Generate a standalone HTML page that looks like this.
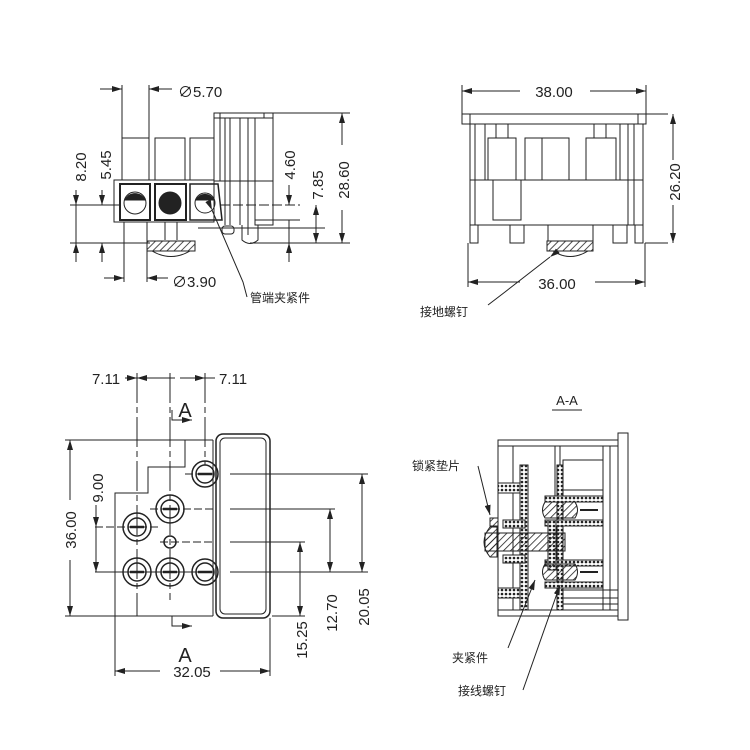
<!DOCTYPE html>
<html><head><meta charset="utf-8"><style>
html,body{margin:0;padding:0;background:#fff}
svg{display:block}
text{font-family:"Liberation Sans","Noto Sans CJK SC",sans-serif;fill:#222}
</style></head><body>
<svg width="750" height="750" viewBox="0 0 750 750" xmlns="http://www.w3.org/2000/svg">
<defs>
<marker id="ar" markerWidth="10" markerHeight="6" refX="10" refY="3" orient="auto" markerUnits="userSpaceOnUse"><path d="M0,0 L10,3 L0,6z" fill="#222"/></marker>
<pattern id="hatch" width="5" height="5" patternUnits="userSpaceOnUse" patternTransform="rotate(45)"><line x1="0" y1="0" x2="0" y2="5" stroke="#222" stroke-width="1.6"/></pattern>
<pattern id="dots" width="4" height="4" patternUnits="userSpaceOnUse"><rect width="4" height="4" fill="#fff"/><circle cx="2" cy="2" r="1.3" fill="#222"/></pattern>
</defs>
<g stroke="#222" fill="none" stroke-width="1">

<!-- ===== TOP LEFT VIEW ===== -->
<line x1="122" y1="85" x2="122" y2="138"/><line x1="149" y1="85" x2="149" y2="138"/>
<line x1="100" y1="89" x2="122" y2="89" marker-end="url(#ar)"/>
<line x1="172" y1="89" x2="149" y2="89" marker-end="url(#ar)"/>
<rect x="122" y="138" width="27" height="42"/><rect x="155" y="138" width="30" height="42"/><rect x="190" y="138" width="24" height="42"/>
<rect x="214" y="113" width="59" height="68"/>
<line x1="220" y1="113" x2="220" y2="181"/><line x1="225" y1="118" x2="225" y2="225"/><line x1="230" y1="118" x2="230" y2="225"/><line x1="240" y1="118" x2="240" y2="225"/><line x1="248" y1="118" x2="248" y2="235"/><line x1="255" y1="118" x2="255" y2="225"/>
<line x1="214" y1="118" x2="273" y2="118"/><line x1="264" y1="113" x2="264" y2="118"/>
<rect x="255" y="181" width="18" height="44"/>
<path d="M242,225 L242,240 Q250,247 258,240 L258,225"/>
<rect x="222" y="226" width="12" height="8" rx="3"/>
<rect x="114" y="180" width="100" height="42"/>
<rect x="120" y="184" width="30" height="36" stroke-width="2"/><rect x="155" y="184" width="31" height="36" stroke-width="2"/>
<path d="M190,184 L218,184 L222,220 L190,220z" stroke-width="1.5"/>
<circle cx="135" cy="203" r="11"/><path d="M125,200 A11,11 0 0 1 145,200z" fill="#222"/>
<circle cx="170" cy="203" r="11" fill="#222"/>
<circle cx="205" cy="203" r="10"/><path d="M196,200 A10,10 0 0 1 214,200z" fill="#222"/>
<line x1="124" y1="222" x2="124" y2="282"/><line x1="147" y1="222" x2="147" y2="282"/>
<line x1="165" y1="222" x2="165" y2="240"/><line x1="177" y1="222" x2="177" y2="240"/>
<rect x="147" y="241" width="48" height="10" fill="url(#hatch)"/>
<path d="M152,251 Q171,262 190,251" />
<line x1="70" y1="205" x2="120" y2="205"/><line x1="220" y1="205" x2="300" y2="205" stroke-dasharray="10,3"/>
<line x1="70" y1="243" x2="150" y2="243"/><line x1="198" y1="228" x2="325" y2="228"/><line x1="250" y1="243" x2="350" y2="243"/>
<line x1="273" y1="113" x2="350" y2="113"/><line x1="255" y1="220" x2="300" y2="220"/>
<line x1="76" y1="190" x2="76" y2="205" marker-end="url(#ar)"/><line x1="76" y1="262" x2="76" y2="243" marker-end="url(#ar)"/><line x1="76" y1="205" x2="76" y2="243"/>
<line x1="102" y1="190" x2="102" y2="205" marker-end="url(#ar)"/><line x1="102" y1="262" x2="102" y2="243" marker-end="url(#ar)"/>
<line x1="289" y1="185" x2="289" y2="205" marker-end="url(#ar)"/><line x1="289" y1="243" x2="289" y2="220"/>
<line x1="289" y1="262" x2="289" y2="243" marker-end="url(#ar)"/>
<line x1="316" y1="205" x2="316" y2="243" /><line x1="316" y1="224" x2="316" y2="205" marker-end="url(#ar)"/><line x1="316" y1="224" x2="316" y2="243" marker-end="url(#ar)"/>
<line x1="342" y1="145" x2="342" y2="113" marker-end="url(#ar)"/><line x1="342" y1="210" x2="342" y2="243" marker-end="url(#ar)"/>
<line x1="104" y1="278" x2="124" y2="278" marker-end="url(#ar)"/><line x1="168" y1="278" x2="147" y2="278" marker-end="url(#ar)"/>
<polyline points="212,210 243,282 247,297" marker-start="url(#ar)"/>

<!-- ===== TOP RIGHT VIEW ===== -->
<line x1="462" y1="85" x2="462" y2="114"/><line x1="646" y1="85" x2="646" y2="114"/>
<line x1="520" y1="91" x2="462" y2="91" marker-end="url(#ar)"/><line x1="590" y1="91" x2="646" y2="91" marker-end="url(#ar)"/>
<rect x="462" y="114" width="184" height="10"/><line x1="470" y1="114" x2="470" y2="124"/><line x1="638" y1="114" x2="638" y2="124"/>
<rect x="470" y="124" width="173" height="101"/>
<line x1="475" y1="124" x2="475" y2="225"/><line x1="485" y1="124" x2="485" y2="180"/><line x1="628" y1="124" x2="628" y2="225"/><line x1="620" y1="124" x2="620" y2="180"/><line x1="634" y1="124" x2="634" y2="225"/>
<line x1="470" y1="180" x2="643" y2="180"/>
<rect x="488" y="138" width="28" height="42"/><rect x="496" y="124" width="12" height="14"/>
<rect x="525" y="138" width="44" height="42"/><line x1="542" y1="138" x2="542" y2="180"/>
<rect x="586" y="138" width="30" height="42"/><rect x="594" y="124" width="12" height="14"/>
<rect x="493" y="180" width="28" height="40"/>
<rect x="470" y="225" width="8" height="18"/><rect x="510" y="225" width="14" height="18"/><rect x="613" y="225" width="14" height="18"/><rect x="635" y="225" width="8" height="18"/>
<rect x="548" y="225" width="45" height="16"/>
<rect x="547" y="241" width="46" height="10" fill="url(#hatch)"/>
<path d="M553,251 Q570,262 588,251"/>
<line x1="668" y1="114" x2="646" y2="114"/><line x1="668" y1="243" x2="645" y2="243"/>
<line x1="673" y1="160" x2="673" y2="114" marker-end="url(#ar)"/><line x1="673" y1="205" x2="673" y2="243" marker-end="url(#ar)"/>
<line x1="468" y1="243" x2="468" y2="287"/><line x1="645" y1="243" x2="645" y2="287"/>
<line x1="520" y1="282" x2="468" y2="282" marker-end="url(#ar)"/><line x1="595" y1="282" x2="645" y2="282" marker-end="url(#ar)"/>
<polyline points="550,257 505,292 488,305" marker-start="url(#ar)"/>

<!-- ===== BOTTOM LEFT VIEW ===== -->
<line x1="137" y1="373" x2="137" y2="616" stroke-dasharray="30,4,6,4"/>
<line x1="170" y1="373" x2="170" y2="600" stroke-dasharray="30,4,6,4"/>
<line x1="205" y1="373" x2="205" y2="465" stroke-dasharray="30,4,6,4"/>
<line x1="125" y1="378" x2="137" y2="378" marker-end="url(#ar)"/><line x1="160" y1="378" x2="137" y2="378" marker-end="url(#ar)"/>
<line x1="170" y1="378" x2="160" y2="378"/>
<line x1="180" y1="378" x2="205" y2="378" marker-end="url(#ar)"/><line x1="175" y1="378" x2="170" y2="378"/>
<line x1="205" y1="378" x2="215" y2="378"/>
<polyline points="172,410 172,420 192,420" marker-end="url(#ar)"/>
<polyline points="172,616 172,626 192,626" marker-end="url(#ar)"/>
<path d="M213,440 L185,440 L185,467 L148,467 L148,493 L115,493 L115,616 L213,616"/>
<rect x="216" y="434" width="54" height="184" rx="7" stroke-width="1.5"/>
<rect x="220" y="438" width="46" height="176" rx="5"/>
<line x1="213" y1="440" x2="213" y2="616"/>
<g stroke-width="1.5">
<circle cx="205" cy="474" r="13"/><circle cx="205" cy="474" r="9"/>
<circle cx="170" cy="509" r="14"/><circle cx="170" cy="509" r="9"/>
<circle cx="137" cy="527" r="14"/><circle cx="137" cy="527" r="9"/>
<circle cx="170" cy="542" r="6"/>
<circle cx="137" cy="572" r="14"/><circle cx="137" cy="572" r="9"/>
<circle cx="170" cy="572" r="14"/><circle cx="170" cy="572" r="9"/>
<circle cx="205" cy="572" r="13"/><circle cx="205" cy="572" r="9"/>
</g>
<g stroke-width="2.5"><line x1="198" y1="474" x2="212" y2="474"/><line x1="163" y1="509" x2="177" y2="509"/><line x1="130" y1="527" x2="144" y2="527"/><line x1="130" y1="572" x2="144" y2="572"/><line x1="163" y1="572" x2="177" y2="572"/><line x1="198" y1="572" x2="212" y2="572"/></g>
<line x1="65" y1="440" x2="213" y2="440"/><line x1="65" y1="616" x2="115" y2="616"/>
<line x1="185" y1="474" x2="214" y2="474" stroke-dasharray="8,3"/><line x1="230" y1="474" x2="368" y2="474"/>
<line x1="150" y1="509" x2="214" y2="509" stroke-dasharray="8,3"/><line x1="230" y1="509" x2="335" y2="509"/>
<line x1="95" y1="527" x2="160" y2="527" stroke-dasharray="8,3"/>
<line x1="160" y1="542" x2="214" y2="542" stroke-dasharray="8,3"/><line x1="230" y1="542" x2="305" y2="542"/>
<line x1="95" y1="572" x2="214" y2="572"/><line x1="230" y1="572" x2="368" y2="572"/>
<line x1="272" y1="616" x2="305" y2="616"/>
<line x1="70" y1="500" x2="70" y2="440" marker-end="url(#ar)"/><line x1="70" y1="560" x2="70" y2="616" marker-end="url(#ar)"/>
<line x1="96" y1="505" x2="96" y2="527" marker-end="url(#ar)"/><line x1="96" y1="527" x2="96" y2="572"/><line x1="96" y1="545" x2="96" y2="572" marker-end="url(#ar)"/>
<line x1="300" y1="590" x2="300" y2="542" marker-end="url(#ar)"/><line x1="300" y1="580" x2="300" y2="616" marker-end="url(#ar)"/>
<line x1="330" y1="540" x2="330" y2="509" marker-end="url(#ar)"/><line x1="330" y1="540" x2="330" y2="572" marker-end="url(#ar)"/>
<line x1="362" y1="520" x2="362" y2="474" marker-end="url(#ar)"/><line x1="362" y1="520" x2="362" y2="572" marker-end="url(#ar)"/>
<line x1="115" y1="616" x2="115" y2="676"/><line x1="270" y1="618" x2="270" y2="676"/>
<line x1="160" y1="671" x2="115" y2="671" marker-end="url(#ar)"/><line x1="220" y1="671" x2="270" y2="671" marker-end="url(#ar)"/>

<!-- ===== SECTION A-A ===== -->
<line x1="552" y1="410" x2="582" y2="410"/>
<rect x="618" y="433" width="10" height="187"/>
<rect x="498" y="440" width="120" height="6"/><rect x="498" y="610" width="120" height="6"/>
<line x1="498" y1="440" x2="498" y2="616"/>
<line x1="513" y1="446" x2="513" y2="610"/><line x1="555" y1="446" x2="555" y2="500"/>
<line x1="560" y1="446" x2="560" y2="610"/>
<rect x="563" y="460" width="40" height="30"/>
<line x1="603" y1="446" x2="603" y2="610"/><line x1="610" y1="446" x2="610" y2="610"/>
<line x1="560" y1="590" x2="618" y2="590"/><line x1="560" y1="598" x2="618" y2="598"/><line x1="560" y1="604" x2="618" y2="604"/>
<rect x="520" y="465" width="8" height="145" fill="url(#dots)"/>
<rect x="498" y="483" width="22" height="10" fill="url(#dots)"/>
<rect x="498" y="588" width="22" height="10" fill="url(#dots)"/>
<rect x="503" y="520" width="22" height="8" fill="url(#dots)"/>
<rect x="503" y="555" width="22" height="8" fill="url(#dots)"/>
<rect x="557" y="465" width="6" height="145" fill="url(#dots)"/>
<rect x="545" y="496" width="58" height="6" fill="url(#dots)"/>
<rect x="545" y="520" width="58" height="6" fill="url(#dots)"/>
<rect x="545" y="560" width="58" height="6" fill="url(#dots)"/>
<rect x="545" y="582" width="58" height="6" fill="url(#dots)"/>
<rect x="548" y="520" width="8" height="50" fill="url(#dots)"/>
<rect x="485" y="533" width="80" height="18" fill="url(#hatch)"/>
<path d="M490,527 Q478,542 490,557 L497,557 L497,527z" fill="url(#hatch)"/>
<rect x="490" y="518" width="8" height="8" fill="url(#hatch)"/>
<path d="M545,502 L575,502 Q580,510 575,518 L545,518 Q540,510 545,502z" fill="url(#hatch)"/>
<path d="M545,564 L575,564 Q580,572 575,580 L545,580 Q540,572 545,564z" fill="url(#hatch)"/>
<line x1="580" y1="510" x2="598" y2="510" stroke-width="2"/><line x1="580" y1="572" x2="598" y2="572" stroke-width="2"/>
<polyline points="478,466 490,515" marker-end="url(#ar)"/>
<polyline points="508,648 535,580" marker-end="url(#ar)"/>
<polyline points="523,690 560,585" marker-end="url(#ar)"/>
</g>

<g font-size="15">
<text x="178" y="97">∅5.70</text>
<text x="172" y="287">∅3.90</text>
<text transform="translate(86,167) rotate(-90)" text-anchor="middle">8.20</text>
<text transform="translate(111,165) rotate(-90)" text-anchor="middle">5.45</text>
<text transform="translate(295,165) rotate(-90)" text-anchor="middle">4.60</text>
<text transform="translate(323,185) rotate(-90)" text-anchor="middle">7.85</text>
<text transform="translate(349,180) rotate(-90)" text-anchor="middle">28.60</text>
<text x="554" y="97" text-anchor="middle">38.00</text>
<text x="557" y="289" text-anchor="middle">36.00</text>
<text transform="translate(680,182) rotate(-90)" text-anchor="middle">26.20</text>
<text x="106" y="384" text-anchor="middle">7.11</text>
<text x="233" y="384" text-anchor="middle">7.11</text>
<text transform="translate(76,530) rotate(-90)" text-anchor="middle">36.00</text>
<text transform="translate(103,488) rotate(-90)" text-anchor="middle">9.00</text>
<text transform="translate(307,640) rotate(-90)" text-anchor="middle">15.25</text>
<text transform="translate(337,613) rotate(-90)" text-anchor="middle">12.70</text>
<text transform="translate(369,607) rotate(-90)" text-anchor="middle">20.05</text>
<text x="192" y="677" text-anchor="middle">32.05</text>
<text x="567" y="405" text-anchor="middle" font-size="13">A-A</text>
</g>
<text x="185" y="417" text-anchor="middle" font-size="20">A</text>
<text x="185" y="662" text-anchor="middle" font-size="20">A</text>
<g font-size="12">
<text x="250" y="302">管端夹紧件</text>
<text x="420" y="316">接地螺钉</text>
<text x="412" y="470">锁紧垫片</text>
<text x="452" y="662">夹紧件</text>
<text x="458" y="695">接线螺钉</text>
</g>
</svg>
</body></html>
